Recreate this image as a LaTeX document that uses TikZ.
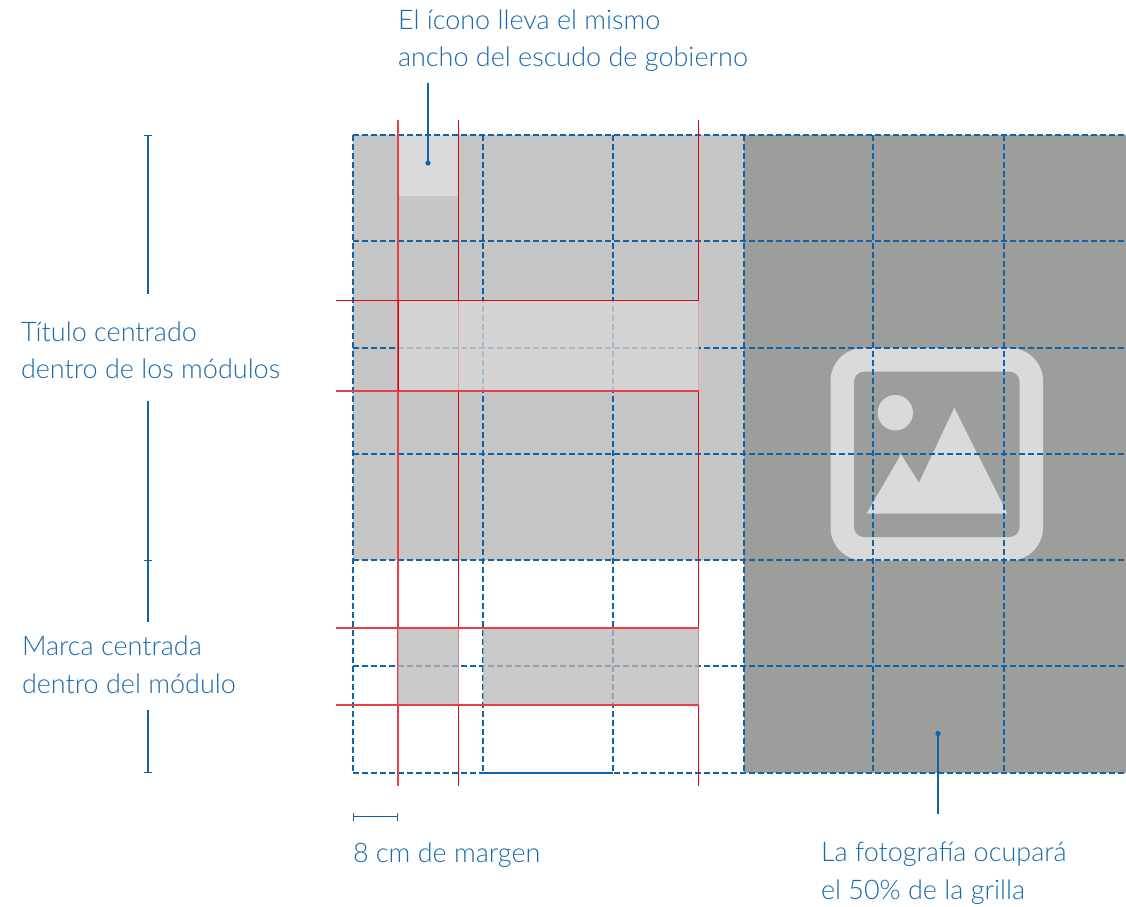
\documentclass[tikz,border=0pt]{standalone}
\usepackage{fontspec}
\setmainfont{Lato Light}
\definecolor{gridblue}{HTML}{1063A6}
\definecolor{noteblue}{HTML}{1063A6}
\definecolor{txtblue}{HTML}{1A69AC}
\definecolor{guide}{HTML}{E30613}
\definecolor{lightpanel}{HTML}{C6C6C6}
\definecolor{darkpanel}{HTML}{9D9D9C}
\definecolor{iconfill}{HTML}{DADADA}
\tikzset{
  gridline/.style={draw=gridblue,line width=1.4pt,dash pattern=on 6pt off 3pt},
  redline/.style={draw=guide,line width=1.3pt},
  palered/.style={draw=guide!78!white,line width=1.3pt},
  note/.style={draw=noteblue,line width=1.3pt},
  label/.style={anchor=base west,inner sep=0pt,outer sep=0pt,text=txtblue,font=\fontsize{27pt}{30pt}\selectfont},
}
\begin{document}
\begin{tikzpicture}[x=1pt,y=-1pt]
\useasboundingbox (0,0) rectangle (1126,906);
\clip (0,0) rectangle (1126,906);
% panels
\fill[lightpanel] (353,135) rectangle (743.5,560);
\fill[darkpanel] (743.5,135) rectangle (1126,772.5);
\fill[iconfill] (398,135) rectangle (458.5,196);
% icon
\fill[iconfill,rounded corners=33pt] (830.5,348) rectangle (1043,560.5);
\fill[darkpanel,rounded corners=10pt] (854,371.7) rectangle (1019.5,537);
\fill[iconfill] (895.3,412.7) circle[radius=17.7];
\fill[iconfill] (866.7,513.5) -- (901,454.3) -- (919,482.7) -- (954.3,407.7) -- (1007.3,513.5) -- cycle;
% grid
\foreach \gx in {353,483,613,744,873,1004}
  \draw[gridline] (\gx,135) -- (\gx,773);
\foreach \gy in {135,241,348,454,560,666,773}
  \draw[gridline] (353,\gy) -- (1130,\gy);
\draw[draw=gridblue,line width=1.4pt] (483,773) -- (613,773);
% red verticals below the overlays
\coordinate (rA) at (398,120); \coordinate (rAb) at (398,786);
\coordinate (rB) at (458.5,120); \coordinate (rBb) at (458.5,786);
\coordinate (rC) at (698.5,120); \coordinate (rCb) at (698.5,786);
\draw[palered] (rA) -- (rAb);
\draw[redline] (rB) -- (rBb);
\draw[redline] (rC) -- (rCb);
% overlays
\fill[fill=black!15,fill opacity=0.75] (398,300.5) rectangle (698.5,390.5);
\fill[fill=black!28,fill opacity=0.75] (398,628) rectangle (458.5,705);
\fill[fill=black!28,fill opacity=0.75] (483,628) rectangle (698.5,705);
% red horizontals
\coordinate (h1) at (336,300.5);
\coordinate (h2) at (336,391);
\coordinate (h3) at (336,628);
\coordinate (h4) at (336,705);
\draw[redline] (h1) -- (698.5,300.5);
\draw[palered] (h2) -- (698.5,391);
\draw[palered] (h3) -- (698.5,628);
\draw[palered] (h4) -- (698.5,705);
\draw[draw=guide!85!black,line width=1pt] (398,300.5) -- (398,390.5);
% notes
\coordinate (iconTop) at (428,83);
\coordinate (iconDot) at (428,163);
\draw[note] (iconTop) -- (iconDot);
\fill[noteblue] (iconDot) circle[radius=2.6];
\coordinate (photoDot) at (938,733.5);
\coordinate (photoEnd) at (938,814);
\draw[note] (photoDot) -- (photoEnd);
\fill[noteblue] (photoDot) circle[radius=2.6];
\coordinate (b1) at (148,135.5); \coordinate (b2) at (148,294);
\coordinate (b3) at (148,401); \coordinate (b4) at (148,560);
\coordinate (b5) at (148,622); \coordinate (b6) at (148,710);
\coordinate (b7) at (148,772);
\draw[note] (b1) -- (b2);
\draw[note] (b3) -- (b4);
\draw[note] (b4) -- (b5);
\draw[note] (b6) -- (b7);
\foreach \ty in {135.5,560.5,772.5}
  \draw[note] (143.8,\ty) -- (152.2,\ty);
\coordinate (m1) at (353.5,816.5); \coordinate (m2) at (397.5,816.5);
\draw[note] (m1) -- (m2);
\draw[note] (353.5,812.5) -- (353.5,820.5);
\draw[note] (397.5,812.5) -- (397.5,820.5);
% labels
\node[label] (t1) at (398,29) {El ícono lleva el mismo};
\node[label] (t2) at (398,66) {ancho del escudo de gobierno};
\node[label] (t3) at (21,341) {Título centrado};
\node[label] (t4) at (21,378) {dentro de los módulos};
\node[label] (t5) at (22,655) {Marca centrada};
\node[label] (t6) at (22,693) {dentro del módulo};
\node[label] (t7) at (353,862) {8 cm de margen};
\node[label] (t8) at (821,861) {La fotografía ocupará};
\node[label] (t9) at (821,899) {el 50\% de la grilla};
\end{tikzpicture}
\end{document}
